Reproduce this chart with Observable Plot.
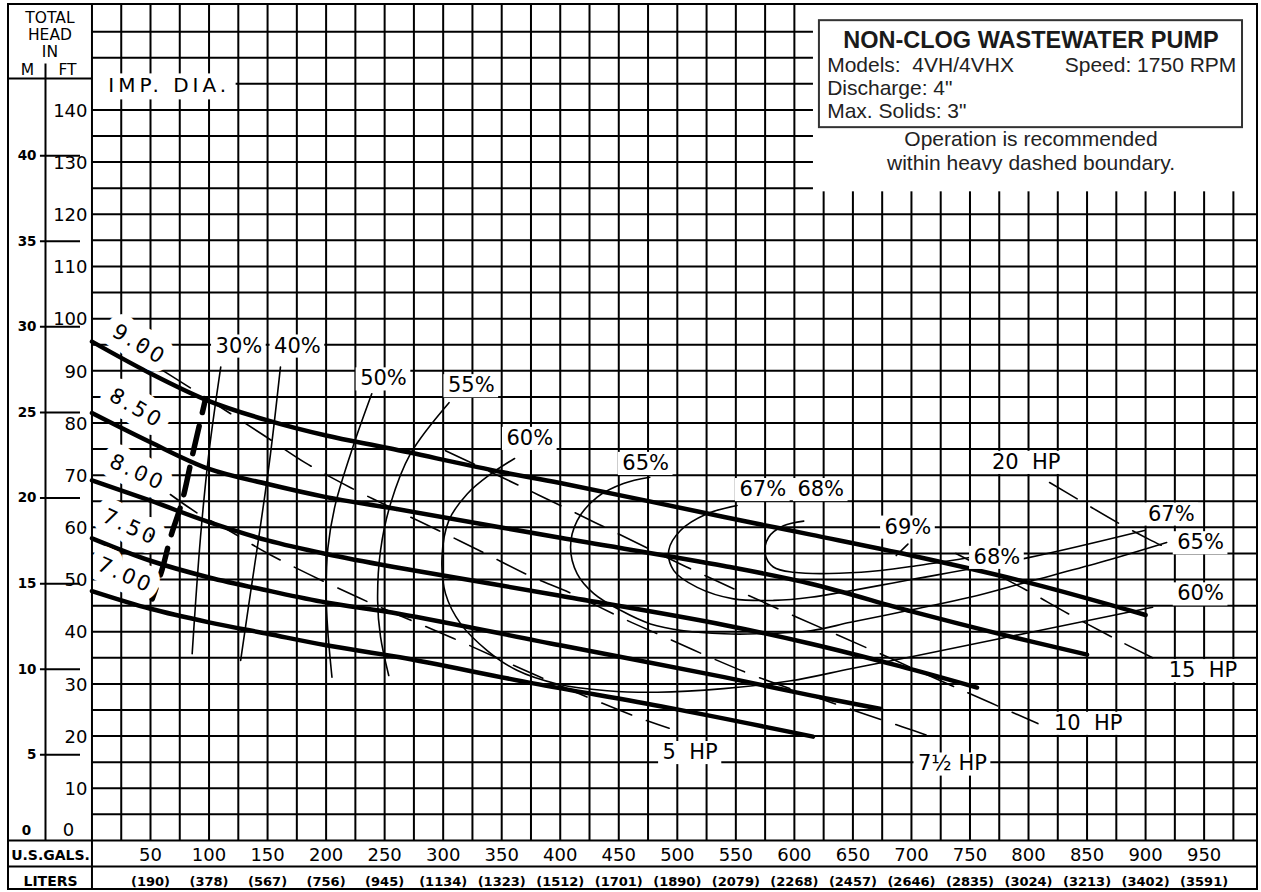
<!DOCTYPE html>
<html><head><meta charset="utf-8">
<script src="https://cdn.jsdelivr.net/npm/d3@7"></script>
<script src="https://cdn.jsdelivr.net/npm/@observablehq/plot@0.6"></script>
<style>
html,body{margin:0;padding:0;background:#fff;}
#chart svg{display:block}
</style></head><body><div id="chart"></div>
<script>
// ---------- DATA (U.S. gpm, feet of head) ----------
const imp900 = [[0,95.6],[50,89.5],[100,84.2],[150,80.5],[200,77.6],[255,75.1],[350,70.6],[400,68.5],[540,62],[614,58.6],[700,54.6],[800,49.4],[900,43.2]];
const imp850 = [[0,81.9],[50,76.3],[100,71.2],[150,68.3],[200,65.8],[258,63.6],[400,58],[540,52.6],[614,49.2],[700,43.9],[775,39.6],[850,35.6]];
const imp800 = [[0,69],[50,65.1],[100,61],[150,57.5],[200,54.9],[258,52.4],[400,46.9],[540,41.3],[614,37.7],[690,33.4],[756,29.3]];
const imp750 = [[0,57.9],[50,53.6],[100,50.4],[150,47.9],[200,45.6],[263,43.4],[400,37.4],[540,31.3],[614,27.8],[674,25.2]];
const imp700 = [[0,47.8],[50,44.4],[100,41.8],[150,39.6],[200,37.4],[263,35.1],[377,30.1],[491,25.5],[616,19.9]];

const eff30 = [[110,90.7],[99.8,74.1],[92.7,58.1],[85.6,35.8]];
const eff40 = [[161,90.7],[152.5,74.1],[142.5,58.1],[134,45.3],[127,34.5]];
const eff50 = [[239,85.6],[223,75.5],[208,64.5],[201.5,56],[200,47],[201.5,40],[205,31.3]];
const eff55 = [[305,83.9],[272,74.1],[255,64.5],[246.5,55.6],[244,46],[246.5,39],[253.5,31.6]];
const eff60 = [[361,73.2],[340.5,70.2],[320.5,66.4],[304.8,61.3],[299,54.3],[302,47.3],[315,41.5],[337.6,36.4],[363,32.6],[397.4,30],[440,28.7],[483,28.4],[539.5,29.1],[597,30.6],[648,32.9],[700,35.2],[800,39.8],[906,44.7]];
const eff65 = [[476.5,69.6],[454,68.4],[431.6,65.8],[414.5,61.3],[408.8,56.2],[414.5,51.1],[428.7,47.3],[451.5,44.1],[477,41.5],[505.5,40.2],[540,39.6],[568,39.6],[614,40.2],[648,41.8],[700,44.2],[750,46.6],[800,49.6],[860,53.2],[918,57.1]];
const eff67 = [[551,64.2],[525.5,62.6],[502.7,59.4],[492.7,55.6],[497,51.7],[517,48.5],[548,46.3],[582.5,46],[614,46.6],[700,50],[800,54.2],[899,59.4]];
const eff68 = [[608,61.2],[590.7,60.3],[578,58.1],[575,54.9],[582,52.4],[599,51.4],[657,51.4],[706,52.7],[755,54.4]];
const eff69 = [[687,54.6],[697,56.8]];

const hp5  = [[67,66.3],[91,62.6],[117,59.4],[151,54.9],[229,46.4],[309,38.7],[386,31],[466,23.6],[493,21.5]];
const hp75 = [[61,90],[101,84.3],[147,77.6],[182,72.4],[221,67.6],[257,63.6],[296,59.4],[334,55.2],[373,50.8],[410,47.3],[452,42.7],[490,38.9],[530,34.9],[570,31.2],[624,27],[663,24],[692,21.8],[719,19.7]];
const hp10 = [[302,74.7],[365,68],[430,60.9],[507,52.5],[586,44.4],[665,36.6],[742,28.9],[808,22.4]];
const hp15 = [[738,55],[793,48.6],[836,43.2],[877,38.3],[906,35]];
const hp20 = [[818,68.6],[842,65.4],[877,60.8],[903,57.7],[926,55.2]];

const boundary = [[97,84.6],[86,74],[77,65],[67,58],[60,52],[51.5,46.3]];

const impLabels = ["9.00","8.50","8.00","7.50","7.00"];
const impLabelX = [40.6,38,38.9,32.9,28.6];
const impLabelY = [95,82.8,70.5,60,50.8];
const impLabelAngle = [31,30,25,25,24];

const effLabels = ["30%","40%","50%","55%","60%","65%","67%","68%","69%","68%","67%","65%","60%"];
const effLabelX = [125.5,175.5,249,324,374,473,573,622.5,697,773,922,947,947];
const effLabelY = [94.8,94.8,88.5,87.2,77.1,72.3,67.3,67.3,60.1,54.3,62.6,57.1,47.3];

const hpLabels = ["5\u00a0\u00a0HP","7½\u00a0HP","10\u00a0\u00a0HP","15\u00a0\u00a0HP","20\u00a0\u00a0HP"];
const hpLabelX = [511,735,851,949,798];
const hpLabelY = [16.9,14.7,22.5,32.6,72.5];

const gallonTicks = [50,100,150,200,250,300,350,400,450,500,550,600,650,700,750,800,850,900,950];
const literTicks = [190,378,567,756,945,1134,1323,1512,1701,1890,2079,2268,2457,2646,2835,3024,3213,3402,3591];
const feetTicks = [10,20,30,40,50,60,70,80,90,100,110,120,130,140];
const meterTicks = [5,10,15,20,25,30,35,40];
const headerLines = ["TOTAL","HEAD","IN"];

const titleLines = ["NON-CLOG WASTEWATER PUMP"];
const infoLeft = ["Models:\u00a0\u00a04VH/4VHX","Discharge: 4\"","Max. Solids: 3\""];
const infoRight = ["Speed: 1750 RPM"];
const noteLines = ["Operation is recommended","within heavy dashed boundary."];

// ---------- layout (data units) ----------
const W = 1261, H = 892, ML = 8, MR = 4, MT = 4, MB = 3;
const F = {left:-71.3, right:995.6, top:160.2, bottom:-9.4, row:-5, head:146, mdiv:-39.7, mdivTop:148.8};
const KX = (W - ML - MR) / (F.right - F.left);   // px per gpm
const KY = (H - MT - MB) / (F.top - F.bottom);   // px per ft
const FT_PER_M = 3.28084;
const CAD = "DejaVu Sans";
const SANS = "Liberation Sans, Arial, sans-serif";
const LABEL_SIZE = 21;

const gridX = d3.range(25, 1000, 25);
const gridY = d3.range(5, 160, 5);

// text measurement for label backgrounds
const ctx = document.createElement("canvas").getContext("2d");
function textWidth(s, size, family, spacing = 0) {
  ctx.font = `${size}px ${family}`;
  return ctx.measureText(s).width + spacing * s.length;
}
const padX = 4, padY = 4;
const halfW = (s, size, sp = 0) => (textWidth(s, size, CAD, sp) / 2 + padX) / KX;
const halfH = size => (size * 0.36 + padY) / KY;

function labelBoxes(texts, xs, ys, size) {
  return Plot.rect(texts, {
    x1: (d, i) => xs[i] - halfW(d, size), x2: (d, i) => xs[i] + halfW(d, size),
    y1: (d, i) => ys[i] - halfH(size) - 0.15, y2: (d, i) => ys[i] + halfH(size) - 0.15,
    fill: "white"
  });
}

const chart = Plot.plot({
  width: W, height: H,
  marginLeft: ML, marginRight: MR, marginTop: MT, marginBottom: MB,
  x: {domain: [F.left, F.right], axis: null},
  y: {domain: [F.bottom, F.top], axis: null},
  style: {background: "white", overflow: "visible"},
  marks: [
    // grid
    Plot.ruleX(gridX, {y1: 0, y2: F.top, stroke: "black", strokeWidth: 2}),
    Plot.ruleY(gridY, {x1: 0, x2: F.right, stroke: "black", strokeWidth: 2}),
    // white panel for the title block
    Plot.rect([0], {x1: 616.3, x2: F.right, y1: 124.3, y2: F.top, fill: "white"}),
    Plot.rect([0], {x1: 621.4, x2: 982.8, y1: 136.6, y2: 157.1, fill: "white", stroke: "#333", strokeWidth: 2}),
    Plot.text(titleLines, {x: 802.1, y: 153.3, text: d => d, fontFamily: SANS, fontWeight: "bold", fontSize: 23.5, fill: "#1a1a1a"}),
    Plot.text(infoLeft, {x: 628, y: (d, i) => [148.5, 144.1, 139.7][i], text: d => d, textAnchor: "start", fontFamily: SANS, fontSize: 21, fill: "#222"}),
    Plot.text(infoRight, {x: 977.5, y: 148.5, text: d => d, textAnchor: "end", fontFamily: SANS, fontSize: 21, fill: "#222"}),
    Plot.text(noteLines, {x: 802.1, y: (d, i) => [134.3, 129.7][i], text: d => d, fontFamily: SANS, fontSize: 21, fill: "#222"}),

    // efficiency curves
    ...[eff30, eff40, eff50, eff55, eff60, eff65, eff67, eff68, eff69].map(c =>
      Plot.line(c, {curve: "catmull-rom", stroke: "black", strokeWidth: 1.6})),
    // horsepower lines
    ...[hp5, hp75, hp10, hp15, hp20].map(c =>
      Plot.line(c, {curve: "catmull-rom", stroke: "black", strokeWidth: 1.6, strokeDasharray: "32,16"})),
    // impeller curves
    ...[imp900, imp850, imp800, imp750, imp700].map(c =>
      Plot.line(c, {curve: "catmull-rom", stroke: "black", strokeWidth: 4.5})),
    // recommended-operation boundary
    Plot.line(boundary, {curve: "catmull-rom", stroke: "black", strokeWidth: 5.5, strokeDasharray: "28,14", strokeDashoffset: 14}),

    // labels with white boxes
    Plot.rect(["IMP. DIA."], {x1: 0, x2: d => 66 + halfW(d, 20, 4) + 2 / KX, y1: 144.6 - 14 / KY, y2: 144.6 + 12 / KY, fill: "white"}),
    Plot.text(["IMP. DIA."], {x: 66, y: 144.6, text: d => d, fontFamily: CAD, fontSize: 20}),
    Plot.text(impLabels, {x: (d, i) => impLabelX[i], y: (d, i) => impLabelY[i], rotate: (d, i) => impLabelAngle[i], text: d => d,
      fontFamily: CAD, fontSize: LABEL_SIZE, fill: "black", stroke: "white", strokeWidth: 20, strokeLinejoin: "round"}),
    labelBoxes(effLabels, effLabelX, effLabelY, LABEL_SIZE),
    Plot.text(effLabels, {x: (d, i) => effLabelX[i], y: (d, i) => effLabelY[i], text: d => d, fontFamily: CAD, fontSize: LABEL_SIZE}),
    labelBoxes(hpLabels, hpLabelX, hpLabelY, LABEL_SIZE),
    Plot.text(hpLabels, {x: (d, i) => hpLabelX[i], y: (d, i) => hpLabelY[i], text: d => d, fontFamily: CAD, fontSize: LABEL_SIZE}),

    // frame
    Plot.rect([0], {x1: F.left, x2: F.right, y1: F.bottom, y2: F.top, fill: "none", stroke: "black", strokeWidth: 2}),
    Plot.ruleX([0], {y1: F.bottom, y2: F.top, stroke: "black", strokeWidth: 2}),
    Plot.ruleX([F.mdiv], {y1: 0, y2: F.mdivTop, stroke: "black", strokeWidth: 2}),
    Plot.ruleY([0, F.row], {x1: F.left, x2: F.right, stroke: "black", strokeWidth: 2}),
    Plot.ruleY([F.head], {x1: F.left, x2: 0, stroke: "black", strokeWidth: 2}),
    Plot.ruleY(meterTicks, {y: d => d * FT_PER_M, x1: -44, x2: -9.8, stroke: "black", strokeWidth: 2}),

    // axis texts
    Plot.text(headerLines, {x: -35.9, y: (d, i) => [157.6, 154.3, 151.0][i], text: d => d, fontFamily: CAD, fontSize: 15.5}),
    Plot.text(["M"], {x: -55.1, y: 147.6, text: d => d, fontFamily: CAD, fontSize: 15.5}),
    Plot.text(["FT"], {x: -20.9, y: 147.6, text: d => d, fontFamily: CAD, fontSize: 15.5}),
    Plot.text(feetTicks, {x: -3.8, y: d => d, text: d => String(d), textAnchor: "end", fontFamily: CAD, fontSize: 18, dy: 1}),
    Plot.text([0], {x: -20.1, y: 1.92, text: d => String(d), fontFamily: CAD, fontSize: 18}),
    Plot.text(meterTicks, {x: -47.4, y: d => d * FT_PER_M, text: d => String(d), textAnchor: "end", fontFamily: CAD, fontSize: 13.5, fontWeight: "bold"}),
    Plot.text([0], {x: -55.9, y: 1.92, text: d => String(d), fontFamily: CAD, fontSize: 13.5, fontWeight: "bold"}),
    Plot.text(gallonTicks, {x: d => d, y: -2.87, text: d => String(d), fontFamily: CAD, fontSize: 18}),
    Plot.text(literTicks, {x: (d, i) => gallonTicks[i], y: -7.86, text: d => `(${d})`, fontFamily: CAD, fontSize: 13, fontWeight: "bold"}),
    Plot.text(["U.S.GALS."], {x: -35.4, y: -2.87, text: d => d, fontFamily: CAD, fontSize: 14, fontWeight: "bold"}),
    Plot.text(["LITERS"], {x: -35.4, y: -7.86, text: d => d, fontFamily: CAD, fontSize: 14, fontWeight: "bold"})
  ]
});

// letter spacing for the stencil-style labels
chart.querySelectorAll("text").forEach(t => {
  const s = t.textContent;
  if (s === "IMP. DIA.") t.style.letterSpacing = "4px";
  if (impLabels.includes(s)) t.style.letterSpacing = "3px";
});
document.getElementById("chart").appendChild(chart);
</script></body></html>
